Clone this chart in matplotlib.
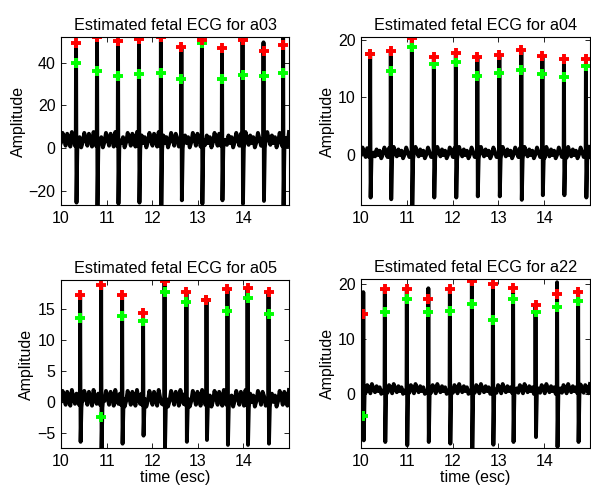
import numpy as np
import matplotlib
matplotlib.use("Agg")
import matplotlib.pyplot as plt

plt.rcParams['font.family'] = ['Liberation Sans', 'DejaVu Sans']
plt.rcParams['font.size'] = 11

# ---- data ----
titles = ["Estimated fetal ECG for a03", "Estimated fetal ECG for a04",
          "Estimated fetal ECG for a05", "Estimated fetal ECG for a22"]

a03_beats = [10.33, 10.79, 11.25, 11.71, 12.19, 12.64, 13.09, 13.53, 13.98, 14.44, 14.87]
a03_red = [49.1, 52.2, 49.9, 51.0, 52.2, 47.4, 50.4, 46.7, 50.4, 45.6, 48.2]
a03_green = [40.0, 36.1, 34.0, 34.7, 35.3, 32.5, 49.4, 32.5, 34.4, 33.7, 35.0]
a03_peak = [49.5, 52.3, 50.0, 51.0, 52.3, 47.5, 51.5, 47.0, 50.5, 49.5, 52.3]
a03_trough = [-25.4, -27.0, -25.9, -25.4, -26.5, -24.3, -25.9, -24.3, -25.9, -24.6, -26.5]

a04_beats = [10.20, 10.65, 11.11, 11.59, 12.07, 12.54, 13.02, 13.50, 13.96, 14.43, 14.91]
a04_red = [17.6, 18.1, 20.4, 17.1, 17.7, 17.1, 17.4, 18.3, 17.2, 16.7, 16.7]
a04_green = [17.5, 14.6, 18.8, 15.8, 16.2, 13.7, 14.2, 14.8, 14.0, 13.5, 15.4]
a04_peak = [17.6, 18.1, 20.5, 17.1, 17.7, 17.1, 17.4, 18.3, 17.2, 16.7, 16.7]
a04_trough = [-7.4, -7.7, -8.8, -7.4, -7.4, -7.2, -7.2, -7.8, -7.0, -7.0, -7.4]

a05_beats = [10.42, 10.88, 11.34, 11.80, 12.27, 12.75, 13.19, 13.65, 14.09, 14.55]
a05_red = [17.2, 18.9, 17.3, 14.3, 19.6, 17.8, 16.5, 18.2, 18.4, 17.8]
a05_green = [13.6, -2.5, 13.8, 13.1, 17.7, 16.1, 16.5, 14.6, 16.8, 14.2]
a05_peak = [17.2, 19.0, 17.3, 14.3, 19.7, 17.8, 16.5, 18.2, 18.4, 17.8]
a05_trough = [-6.5, -7.5, -6.8, -5.5, -7.5, -6.5, -6.2, -7.0, -7.0, -6.8]

a22_beats = [10.05, 10.52, 11.00, 11.47, 11.94, 12.42, 12.88, 13.32, 13.81, 14.28, 14.74]
a22_red = [14.6, 19.1, 19.1, 17.3, 19.1, 20.6, 20.0, 19.3, 16.3, 18.2, 18.7]
a22_green = [-4.0, 15.0, 17.4, 15.0, 15.2, 16.5, 13.5, 17.4, 15.0, 15.9, 17.0]
a22_peak = [18.6, 19.1, 19.1, 19.3, 19.1, 21.0, 20.0, 19.3, 16.3, 20.4, 18.7]
a22_trough = [-8.5, -8.8, -9.4, -8.8, -9.1, -9.9, -9.3, -8.8, -7.9, -9.7, -8.8]

# baseline level / wiggle amplitude of each trace
baseline_level = [3.6, 0.3, 0.4, 0.8]
baseline_amp = [4.0, 1.1, 1.5, 1.0]
# shape of the baseline wiggle (relative units), repeated along the trace
wiggle = [-0.2, 0.9, 0.2, -0.6, 0.8, 0.3, -0.7, 1.0, 0.1, -0.5, 0.6, -0.3, 0.4, -0.8]

ylims = [(-26.5, 52.0), (-8.7, 20.5), (-7.5, 19.7), (-9.9, 21.0)]
yticks = [[-20, 0, 20, 40], [0, 10, 20], [-5, 0, 5, 10, 15], [0, 10, 20]]
xticks = [10, 11, 12, 13, 14]
xlim = (10.0, 14.999)

panels = [
    (a03_beats, a03_red, a03_green, a03_peak, a03_trough),
    (a04_beats, a04_red, a04_green, a04_peak, a04_trough),
    (a05_beats, a05_red, a05_green, a05_peak, a05_trough),
    (a22_beats, a22_red, a22_green, a22_peak, a22_trough),
]


def build_trace(beats, peaks, troughs, base, amp):
    dt = 0.034
    n = int(round((15.0 - 10.0) / dt)) + 1
    ts = [10.0 + k * dt for k in range(n)]
    vs = [base + amp * wiggle[k % len(wiggle)] for k in range(n)]
    pts = []
    for t, v in zip(ts, vs):
        if any(b - 0.03 < t < b + 0.05 for b in beats):
            continue
        pts.append((t, v))
    for b, p, tr in zip(beats, peaks, troughs):
        pts += [(b - 0.025, base - 0.6 * amp), (b - 0.006, base - 0.3 * amp),
                (b, p), (b + 0.010, tr), (b + 0.028, base - 0.9 * amp),
                (b + 0.045, base)]
    pts.sort()
    return np.array([p[0] for p in pts]), np.array([p[1] for p in pts])


fig = plt.figure(figsize=(5.91, 4.90), dpi=100)
W, H = 591.0, 490.0
boxes = [(61, 37, 289, 205), (361, 37, 590, 205),
         (61, 280, 289, 448), (361, 279, 590, 448)]

for i, (beats, red, green, peak, trough) in enumerate(panels):
    l, t, r, b = boxes[i]
    ax = fig.add_axes([l / W, 1 - b / H, (r - l) / W, (b - t) / H])
    x, y = build_trace(beats, peak, trough, baseline_level[i], baseline_amp[i])
    ax.plot(x, y, color='black', lw=2.8, solid_joinstyle='round')
    ax.plot(beats, green, linestyle='none', marker='+', color=(0, 1, 0),
            markersize=7.5, markeredgewidth=2.8)
    ax.plot(beats, red, linestyle='none', marker='+', color=(1, 0, 0),
            markersize=7.5, markeredgewidth=2.8)
    ax.set_xlim(*xlim)
    ax.set_ylim(*ylims[i])
    ax.set_xticks(xticks)
    ax.set_xticklabels([str(v) for v in xticks])
    ax.set_yticks(yticks[i])
    ax.set_yticklabels([str(v).replace('-', '\u2212') for v in yticks[i]])
    ax.tick_params(direction='in', top=True, right=True, length=3.5,
                   width=0.6, labelsize=11.5, pad=4)
    for s in ax.spines.values():
        s.set_linewidth(0.8)
    ax.set_title(titles[i], fontsize=11.7, pad=5)
    ax.set_ylabel("Amplitude", fontsize=11.5, labelpad=2)
    if i >= 2:
        ax.set_xlabel("time (esc)", fontsize=11.5, labelpad=1)

fig.savefig("out.png", dpi=100)
